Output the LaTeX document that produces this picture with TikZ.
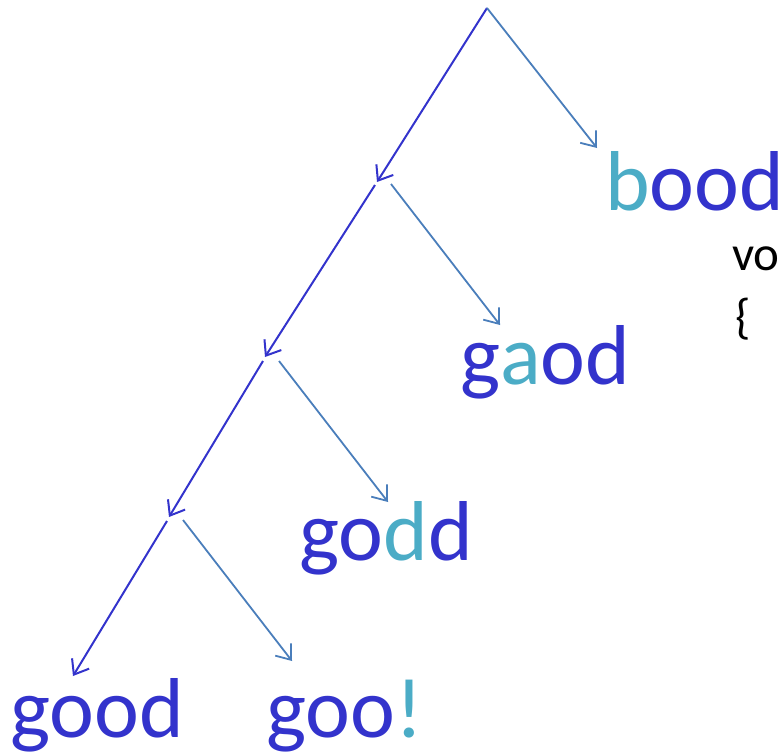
\documentclass[tikz,border=0pt]{standalone}
\usepackage{fontspec}
\setmainfont{Carlito}
\usepackage{xcolor}
\usepackage{tikz}
\usetikzlibrary{positioning}
\usetikzlibrary{arrows.meta}
\usetikzlibrary{calc}

\definecolor{wordblue}{HTML}{3333CC}
\definecolor{editteal}{HTML}{4BACC6}
\definecolor{branchblue}{HTML}{4A7EBB}

\newcommand{\chg}[1]{\textcolor{editteal}{#1}}

\begin{document}
\begin{tikzpicture}[
  x=1pt, y=-1pt,
  word/.style={anchor=base west, inner sep=0pt, text=wordblue,
    font=\fontsize{85}{90}\selectfont},
  codetext/.style={anchor=base west, inner sep=0pt, text=black,
    font=\fontsize{49}{59}\selectfont},
  keep/.style={draw=wordblue, line width=2pt,
    -{Straight Barb[length=13pt,width=20pt,line width=2pt]}},
  edit/.style={draw=branchblue, line width=1.8pt,
    -{Straight Barb[length=13pt,width=20pt,line width=1.8pt]}},
]
  \useasboundingbox (0,0) rectangle (780,753);
  \clip (0,0) rectangle (780,753);

  % words
  \node[word] (bood) at (605,210) {\chg{b}ood};
  \node[word] (gaod) at (460,384) {g\chg{a}od};
  \node[word] (godd) at (299,560) {go\chg{d}d};
  \node[word] (good) at (10,737) {good};
  \node[word] (goo)  at (266,737) {goo\chg{!}};
  \node[codetext] (void) at (732,270) {vo};
  \node[codetext] (brace) at (735,333) {\{};

  % branch points
  \coordinate (root) at (487,8);
  \coordinate (p1) at (377,182);
  \coordinate (p2) at (265,357);
  \coordinate (p3) at (169,517);
  \coordinate (p4) at (73,676);

  % arrow tips towards the edited words
  \coordinate (tb) at (597,148);
  \coordinate (ta) at (500,325);
  \coordinate (td) at (388,502);
  \coordinate (te) at (292,661);

  % the tree
  \draw[keep] (root) -- (p1);
  \draw[edit] (root) -- (tb);
  \draw[keep] ($(p1)+(-2,3)$) -- (p2);
  \draw[edit] ($(p1)+(14,2)$) -- (ta);
  \draw[keep] ($(p2)+(-2,4)$) -- (p3);
  \draw[edit] ($(p2)+(14,4)$) -- (td);
  \draw[keep] ($(p3)+(-2,4)$) -- (p4);
  \draw[edit] ($(p3)+(14,3)$) -- (te);
\end{tikzpicture}
\end{document}
